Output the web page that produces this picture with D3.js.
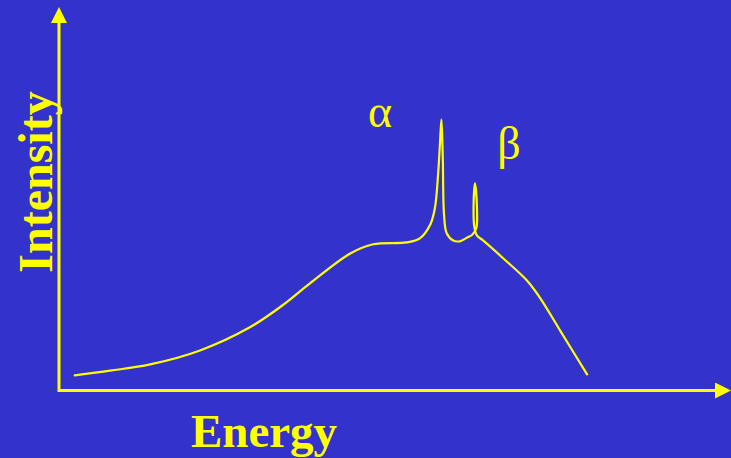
<!DOCTYPE html>
<html>
<head>
<meta charset="utf-8">
<script src="https://cdn.jsdelivr.net/npm/d3@7"></script>
<style>
  html, body { margin: 0; padding: 0; background: #3333CC; }
  svg { display: block; }
</style>
</head>
<body>
<script>
// X-ray emission spectrum: bremsstrahlung continuum with characteristic α and β lines
const energy = [2.4, 7.8, 13.9, 21.5, 29.1, 34.1, 38.3, 44.4, 47.9, 53.0, 55.0, 56.6, 57.3, 57.8, 58.1, 58.3,
  58.5, 58.7, 59.1, 60.1, 61.1, 62.2, 63.0, 63.6, 63.7, 63.4, 63.2, 63.3, 63.7, 64.6, 67.7, 71.3, 73.3, 76.4, 80.5];
const intensity = [4.1, 5.4, 7.1, 10.9, 17.2, 23.2, 29.2, 37.3, 39.8, 40.3, 41.4, 45.2, 49.6, 59.1, 68.1, 73.8,
  63.5, 47.7, 42.8, 40.8, 40.6, 41.6, 42.4, 44.1, 50.4, 56.4, 50.4, 44.7, 42.2, 40.9, 36.0, 30.0, 25.3, 16.3, 4.4];

const peakLabels = ["α", "β"];
const peakLabelPos = [[47.1, 71.7], [66.8, 63.0]]; // [energy, intensity] anchor of each label

const axisLabels = { x: "Energy", y: "Intensity" };

const W = 731, H = 458;
const yellow = "#FFFF00";

const svg = d3.select("body").append("svg")
  .attr("width", W).attr("height", H);

svg.append("rect").attr("width", W).attr("height", H).attr("fill", "#3333CC");

const x = d3.scaleLinear().domain([0, 100]).range([59, 715]);
const y = d3.scaleLinear().domain([0, 100]).range([390.5, 23]);

// Arrow heads
const defs = svg.append("defs");
defs.append("marker")
  .attr("id", "arrow")
  .attr("viewBox", "0 0 16 16")
  .attr("refX", 0).attr("refY", 8)
  .attr("markerUnits", "userSpaceOnUse")
  .attr("markerWidth", 16).attr("markerHeight", 16)
  .attr("orient", "auto")
  .append("path")
  .attr("d", "M0,0 L16,8 L0,16 Z")
  .attr("fill", yellow);

// Axes (no ticks, just arrowed lines)
svg.append("line")
  .attr("x1", x(0)).attr("y1", y(0))
  .attr("x2", x(100)).attr("y2", y(0))
  .attr("stroke", yellow).attr("stroke-width", 3)
  .attr("marker-end", "url(#arrow)");

svg.append("line")
  .attr("x1", x(0)).attr("y1", y(0) + 1.5)
  .attr("x2", x(0)).attr("y2", y(100))
  .attr("stroke", yellow).attr("stroke-width", 3)
  .attr("marker-end", "url(#arrow)");

// Spectrum curve
const pts = energy.map((e, i) => [e, intensity[i]]);
const line = d3.line()
  .x(d => x(d[0]))
  .y(d => y(d[1]))
  .curve(d3.curveCatmullRom.alpha(0.5));

svg.append("path")
  .datum(pts)
  .attr("d", line)
  .attr("fill", "none")
  .attr("stroke", yellow)
  .attr("stroke-width", 2.2)
  .attr("stroke-linejoin", "round")
  .attr("stroke-linecap", "round");

// Peak labels
svg.selectAll("text.peak")
  .data(peakLabels)
  .join("text")
  .attr("class", "peak")
  .attr("x", (d, i) => x(peakLabelPos[i][0]))
  .attr("y", (d, i) => y(peakLabelPos[i][1]))
  .attr("fill", yellow)
  .attr("font-family", "'Liberation Serif', 'Times New Roman', serif")
  .attr("font-size", 46)
  .text(d => d);

// Axis titles
svg.append("text")
  .attr("x", 264).attr("y", 447)
  .attr("text-anchor", "middle")
  .attr("fill", yellow)
  .attr("font-family", "'Liberation Serif', 'Times New Roman', serif")
  .attr("font-weight", "bold")
  .attr("font-size", 47)
  .text(axisLabels.x);

svg.append("text")
  .attr("transform", "translate(52,182) rotate(-90)")
  .attr("text-anchor", "middle")
  .attr("fill", yellow)
  .attr("font-family", "'Liberation Serif', 'Times New Roman', serif")
  .attr("font-weight", "bold")
  .attr("font-size", 48)
  .text(axisLabels.y);
</script>
</body>
</html>
